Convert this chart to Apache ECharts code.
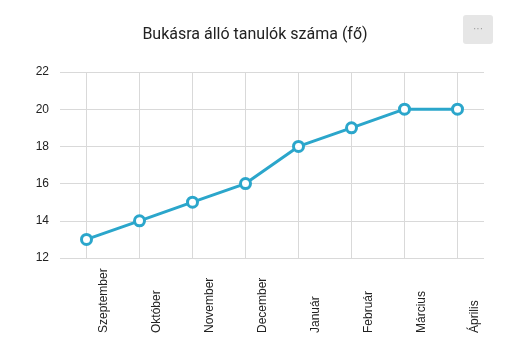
<!DOCTYPE html>
<html><head><meta charset="utf-8">
<script src="https://cdn.jsdelivr.net/npm/echarts@6/dist/echarts.min.js"></script>
<style>html,body{margin:0;padding:0;background:#fff}#c{width:510px;height:353px}</style>
</head><body><div id="c"></div>
<script>
var categories = ['Szeptember','Október','November','December','Január','Február','Március','Április'];
var values = [13,14,15,16,18,19,20,20];
var yTicks = [12,14,16,18,20,22];
var titleText = 'Bukásra álló tanulók száma (fő)';

var chart = echarts.init(document.getElementById('c'), null, {renderer:'canvas'});
chart.setOption({
  animation: false,
  title: {text: titleText, left: 'center', top: 22, textStyle: {fontFamily: 'Roboto', fontSize: 16, fontWeight: 'normal', color: '#222'}},
  grid: {left: 60, right: 26, top: 72, bottom: 95},
  xAxis: {
    type: 'category', data: categories, boundaryGap: true,
    axisLine: {show: false}, axisTick: {show: false},
    splitLine: {show: true, alignWithLabel: true, lineStyle: {color: '#d9d9d9'}},
    axisLabel: {rotate: 90, align: 'left', verticalAlign: 'top', padding: [11,0,0,0], margin: 75, interval: 0,
      fontFamily: 'Liberation Sans, Arial', fontSize: 12, color: '#222'}
  },
  yAxis: {
    type: 'value', min: yTicks[0], max: yTicks[yTicks.length-1], interval: 2,
    axisLine: {show: false}, axisTick: {show: false},
    splitLine: {lineStyle: {color: '#d9d9d9'}},
    axisLabel: {margin: 11, fontFamily: 'Liberation Sans, Arial', fontSize: 12, color: '#222'}
  },
  series: [{
    type: 'line', data: values,
    lineStyle: {color: '#2ba6cb', width: 3},
    itemStyle: {color: '#fff', borderColor: '#2ba6cb', borderWidth: 3},
    symbol: 'circle', symbolSize: 10
  }],
  graphic: [
    {type: 'rect', shape: {x: 463, y: 15, width: 30, height: 29, r: 3}, style: {fill: '#e6e6e6'}},
    {type: 'text', style: {text: '···', x: 478, y: 29, textAlign: 'center', textVerticalAlign: 'middle', fill: '#999', fontSize: 10}}
  ]
});
</script></body></html>
